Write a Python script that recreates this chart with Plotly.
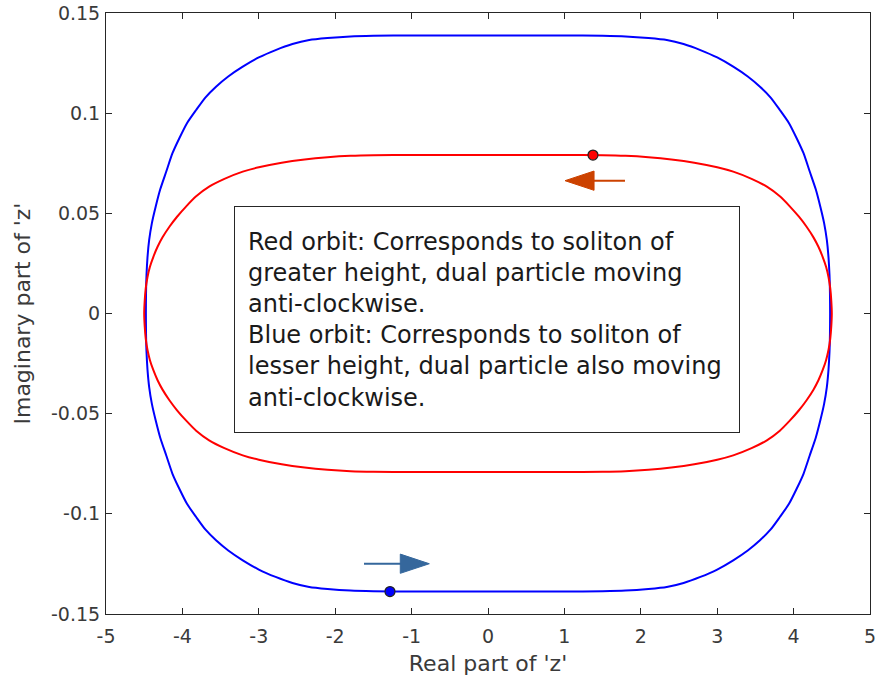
import numpy as np
import plotly.graph_objects as go

# ---- data (upper-right quadrant of each orbit; orbits are symmetric) ----
red_qx = [0.0, 1.0, 1.5, 1.8, 2.1, 2.4, 2.7, 3.0, 3.21, 3.45, 3.65, 3.82, 3.95, 4.07, 4.17,
          4.26, 4.325, 4.38, 4.425, 4.458, 4.48, 4.493, 4.50]
red_qy = [0.0791, 0.0791, 0.0790, 0.0787, 0.0780, 0.0769, 0.0753, 0.0730, 0.0708, 0.0672, 0.0633, 0.0585,
          0.0535, 0.0483, 0.0433, 0.0380, 0.0333, 0.0283, 0.0233, 0.0180, 0.0125, 0.0065, 0.0]
blue_qx = [0.0, 1.0, 1.5, 1.8, 2.1, 2.34, 2.56, 2.78, 3.0, 3.21, 3.4, 3.56, 3.7, 3.82, 3.94, 4.04,
           4.13, 4.21, 4.29, 4.35, 4.40, 4.435, 4.457, 4.470, 4.476, 4.478]
blue_qy = [0.1388, 0.1388, 0.1386, 0.1383, 0.1375, 0.1365, 0.1345, 0.1315, 0.1278, 0.1232, 0.1183, 0.1132,
           0.1078, 0.1016, 0.0950, 0.0875, 0.0800, 0.0710, 0.0620, 0.0533, 0.0450, 0.0367, 0.0280, 0.0190,
           0.0100, 0.0]

# dual-particle positions
red_dot = (1.374, 0.0791)
blue_dot = (-1.283, -0.1388)

# direction arrows: tail x, tip x, y
arrow_tail_x = [-1.623, 1.793]
arrow_tip_x = [-0.768, 1.008]
arrow_y = [-0.1249, 0.0663]
arrow_colors = ["#35679c", "#cc4200"]

x_ticks = [-5, -4, -3, -2, -1, 0, 1, 2, 3, 4, 5]
x_ticktext = ["-5", "-4", "-3", "-2", "-1", "0", "1", "2", "3", "4", "5"]
y_ticks = [-0.15, -0.1, -0.05, 0, 0.05, 0.1, 0.15]
y_ticktext = ["-0.15", "-0.1", "-0.05", "0", "0.05", "0.1", "0.15"]

x_title = "Real part of 'z'"
y_title = "Imaginary part of 'z'"
box_text = ("Red orbit: Corresponds to soliton of<br>greater height, dual particle moving<br>"
            "anti-clockwise.<br>Blue orbit: Corresponds to soliton of<br>"
            "lesser height, dual particle also moving<br>anti-clockwise.")


def closed_orbit(qx, qy):
    qx = np.asarray(qx); qy = np.asarray(qy)
    ur_x, ur_y = qx[::-1], qy[::-1]
    ul_x, ul_y = -qx[1:], qy[1:]
    ll_x, ll_y = -qx[::-1][1:], -qy[::-1][1:]
    lr_x, lr_y = qx[1:], -qy[1:]
    return (np.concatenate([ur_x, ul_x, ll_x, lr_x]),
            np.concatenate([ur_y, ul_y, ll_y, lr_y]))


fig = go.Figure()

bx, by = closed_orbit(blue_qx, blue_qy)
rx, ry = closed_orbit(red_qx, red_qy)
fig.add_trace(go.Scatter(x=bx, y=by, mode="lines", line=dict(color="#0000ff", width=2, shape="spline", smoothing=0.6),
                         hoverinfo="skip", showlegend=False))
fig.add_trace(go.Scatter(x=rx, y=ry, mode="lines", line=dict(color="#ff0000", width=2, shape="spline", smoothing=0.6),
                         hoverinfo="skip", showlegend=False))

fig.add_trace(go.Scatter(x=[red_dot[0]], y=[red_dot[1]], mode="markers",
                         marker=dict(size=10, color="#ff0000", line=dict(color="#202020", width=1.2)),
                         showlegend=False))
fig.add_trace(go.Scatter(x=[blue_dot[0]], y=[blue_dot[1]], mode="markers",
                         marker=dict(size=10, color="#0000ff", line=dict(color="#202020", width=1.2)),
                         showlegend=False))

# arrows (line + filled head)
HEAD_LEN = 0.38      # x units
HEAD_HALF = 0.0048   # y units
for tx, hx, ay, col in zip(arrow_tail_x, arrow_tip_x, arrow_y, arrow_colors):
    d = np.sign(hx - tx)
    base = hx - d * HEAD_LEN
    fig.add_trace(go.Scatter(x=[tx, base + d * 0.05], y=[ay, ay], mode="lines",
                             line=dict(color=col, width=2), showlegend=False, hoverinfo="skip"))
    fig.add_trace(go.Scatter(x=[base, hx, base, base], y=[ay + HEAD_HALF, ay, ay - HEAD_HALF, ay + HEAD_HALF],
                             mode="lines", fill="toself", fillcolor=col, line=dict(color=col, width=1),
                             showlegend=False, hoverinfo="skip"))

fig.add_annotation(text=box_text, xref="paper", yref="paper", x=0.1675, y=0.6789,
                   xanchor="left", yanchor="top", align="left", valign="middle",
                   showarrow=False, width=478, height=199, borderpad=13,
                   bordercolor="#262626", borderwidth=1, bgcolor="white",
                   font=dict(family="DejaVu Sans", size=24, color="#1a1a1a"))

# y-axis title as rotated text
fig.add_annotation(text=y_title, xref="paper", yref="paper", x=-0.1099, y=0.5,
                   xanchor="center", yanchor="middle", textangle=-90, showarrow=False,
                   font=dict(family="DejaVu Sans", size=22, color="#3a3a3a"))

axis_common = dict(showgrid=False, zeroline=False, showline=True, linecolor="#262626", linewidth=1,
                   mirror="ticks", ticks="inside", ticklen=6, tickcolor="#262626", tickwidth=1,
                   automargin=False, ticklabeloverflow="allow",
                   tickfont=dict(family="DejaVu Sans", size=19, color="#3a3a3a"))

fig.update_xaxes(range=[-5, 5], tickvals=x_ticks, ticktext=x_ticktext, ticklabelstandoff=5,
                 title=dict(text=x_title, font=dict(family="DejaVu Sans", size=22, color="#3a3a3a"), standoff=9),
                 **axis_common)
fig.update_yaxes(range=[-0.15, 0.15], tickvals=y_ticks, ticktext=y_ticktext, ticklabelstandoff=1,
                 **axis_common)

fig.update_layout(width=876, height=685, margin=dict(l=106, r=6, t=13, b=71),
                  plot_bgcolor="white", paper_bgcolor="white", showlegend=False)

fig.write_html("out.html")
